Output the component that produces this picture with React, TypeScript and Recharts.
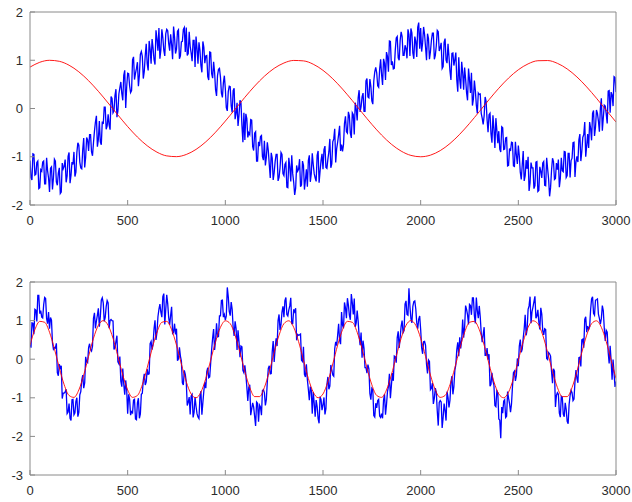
import React from "react";
import { LineChart, Line, XAxis, YAxis } from "recharts";

// top panel: slow reference wave (red, step 50) and noisy inverted signal (blue, step 10 + midpoints)
const topRed = [
  0.858, 0.958, 0.999, 0.978, 0.897, 0.76, 0.576, 0.356, 0.114, -0.134,
  -0.375, -0.592, -0.772, -0.905, -0.982, -0.998, -0.953, -0.848, -0.691, -0.491,
  -0.261, -0.015, 0.232, 0.465, 0.669, 0.832, 0.943, 0.996, 0.987, 0.918,
  0.791, 0.616, 0.402, 0.164, -0.085, -0.328, -0.551, -0.74, -0.883, -0.972,
  -1.0, -0.967, -0.873, -0.726, -0.534, -0.309, -0.065, 0.183, 0.42, 0.631,
  0.803, 0.925, 0.99, 0.994, 0.936, 0.82, 0.654, 0.447, 0.213, -0.035,
  -0.28,
];

// samples at x = 0, 10, 20 ... 3000
const topBlue = [
  -1.08, -1.48, -0.95, -1.36, -1.09, -1.64, -1.3, -1.09, -1.56, -1.29,
  -1.73, -1.21, -1.44, -1.09, -1.59, -1.23, -1.73, -1.25, -1.06, -1.4,
  -0.91, -1.38, -1.16, -1.41, -0.91, -0.76, -1.23, -0.85, -1.22, -0.6,
  -0.88, -0.54, -0.98, -0.47, -0.15, -0.64, -0.69, -0.27, 0.03, -0.43,
  -0.12, -0.44, 0.21, -0.05, 0.4, -0.05, 0.43, 0.31, 0.69, 0.01,
  0.73, 0.47, 0.37, 1.07, 0.73, 0.96, 0.69, 1.18, 0.62, 1.1,
  0.93, 1.4, 0.93, 1.25, 0.91, 1.44, 1.67, 1.22, 1.47, 1.09,
  1.64, 1.35, 1.54, 1.02, 1.48, 1.23, 1.63, 1.09, 1.39, 1.68,
  1.68, 1.14, 1.29, 0.98, 1.41, 1.49, 0.93, 1.21, 0.75, 1.27,
  1.09, 0.66, 1.17, 0.72, 0.97, 0.39, 0.68, 0.83, 0.32, 0.53,
  0.41, -0.05, 0.46, 0.06, 0.37, -0.22, 0.12, -0.14, 0.12, -0.7,
  -0.65, -0.21, -0.5, -0.23, -0.79, -0.51, -1.09, -0.69, -0.58, -1.0,
  -0.67, -1.01, -0.87, -1.44, -1.03, -1.33, -0.95, -1.5, -1.23, -0.95,
  -1.39, -1.12, -1.64, -1.21, -0.97, -1.53, -1.65, -1.3, -1.05, -1.58,
  -1.18, -1.48, -1.62, -0.97, -1.35, -1.16, -1.44, -0.97, -1.54, -1.08,
  -1.26, -0.78, -1.24, -0.9, -1.23, -0.69, -0.42, -0.83, -0.54, -0.88,
  -0.89, -0.31, -0.48, -0.07, -0.51, -0.09, -0.54, -0.01, 0.22, -0.07,
  0.24, -0.06, 0.57, 0.24, 0.61, 0.16, 0.57, 0.85, 0.47, 0.81,
  0.7, 1.03, 0.59, 1.08, 1.4, 0.9, 0.82, 1.21, 1.49, 1.0,
  1.59, 1.1, 1.31, 1.04, 1.53, 1.66, 1.15, 1.49, 1.07, 1.78,
  1.67, 1.36, 1.54, 1.0, 1.45, 1.18, 1.56, 1.02, 1.3, 1.59,
  1.26, 0.83, 1.37, 1.0, 1.34, 0.78, 1.14, 0.89, 1.16, 0.35,
  0.6, 0.97, 0.39, 0.62, 0.17, 0.6, 0.74, 0.2, 0.37, -0.1,
  0.29, -0.1, -0.33, 0.24, -0.23, -0.13, -0.52, -0.14, -0.82, -0.45,
  -0.47, -0.9, -0.4, -0.84, -0.6, -1.18, -0.88, -0.71, -1.2, -0.97,
  -0.77, -1.32, -1.17, -1.5, -1.07, -1.0, -1.54, -1.23, -1.66, -1.11,
  -1.72, -1.21, -1.44, -1.1, -1.6, -1.25, -1.82, -1.28, -1.1, -1.45,
  -1.27, -1.63, -1.02, -1.31, -0.9, -1.39, -0.93, -1.08, -0.71, -1.42,
  -0.99, -0.65, -1.09, -0.6, -0.28, -0.77, -0.82, -0.41, -0.1, -0.57,
  -0.03, -0.26, 0.0, -0.46, 0.07, -0.12, 0.36, -0.09, 0.28, 0.66,
  0.34,
];

// samples at x = 5, 15, 25 ... 2995
const topBlueMid = [
  -1.43, -0.94, -1.38, -1.12, -1.66, -1.27, -1.11, -1.56, -1.02, -1.44,
  -1.24, -1.68, -1.05, -1.52, -1.34, -1.76, -1.13, -1.2, -1.53, -0.99,
  -1.55, -1.11, -0.9, -1.32, -0.71, -1.11, -1.25, -0.61, -1.01, -0.65,
  -0.54, -0.9, -0.71, -0.28, -0.79, -0.26, -0.75, -0.32, 0.03, -0.36,
  -0.34, 0.25, -0.09, 0.27, -0.18, 0.3, 0.55, 0.17, 0.79, 0.45,
  0.72, 0.33, 1.01, 0.6, 0.83, 0.46, 1.12, 1.08, 0.77, 1.34,
  0.79, 1.23, 1.44, 1.01, 1.62, 1.2, 1.03, 1.64, 1.21, 1.55,
  1.61, 1.2, 1.33, 1.7, 1.14, 1.6, 1.03, 1.38, 1.64, 1.17,
  1.1, 1.59, 1.15, 1.41, 0.86, 1.24, 1.37, 0.89, 1.39, 0.94,
  1.1, 0.59, 1.16, 0.63, 0.75, 0.26, 0.81, 0.65, 0.23, 0.68,
  0.02, 0.35, 0.45, -0.08, 0.42, -0.1, -0.36, 0.17, -0.35, -0.09,
  -0.11, -0.6, -0.54, -0.24, -0.87, -0.48, -1.09, -0.78, -0.56, -1.07,
  -1.18, -0.7, -1.16, -0.92, -1.48, -1.1, -0.95, -1.43, -0.91, -1.35,
  -1.16, -1.63, -1.02, -1.51, -1.35, -1.79, -1.18, -1.26, -1.62, -1.09,
  -1.68, -1.26, -1.08, -1.52, -0.93, -1.35, -1.51, -0.88, -1.3, -0.94,
  -0.85, -1.22, -1.05, -0.63, -1.15, -0.63, -1.12, -0.7, -0.36, -0.75,
  -0.75, -0.16, -0.51, -0.15, -0.61, -0.13, 0.12, -0.25, 0.38, 0.04,
  0.32, -0.06, 0.62, 0.22, 0.46, 0.09, 0.76, 0.74, 0.44, 1.02,
  0.49, 0.94, 1.17, 0.76, 1.39, 0.98, 0.83, 1.46, 1.05, 1.41,
  1.49, 1.1, 1.24, 1.64, 1.09, 1.57, 1.03, 1.39, 1.68, 1.24,
  1.18, 1.69, 1.27, 1.55, 1.02, 1.41, 1.56, 1.1, 1.62, 1.19,
  1.36, 0.87, 1.45, 0.94, 1.07, 0.59, 1.15, 1.01, 0.59, 1.06,
  0.41, 0.75, 0.85, 0.33, 0.83, 0.32, 0.06, 0.58, 0.07, 0.32,
  0.3, -0.2, -0.15, 0.15, -0.49, -0.1, -0.71, -0.42, -0.2, -0.72,
  -0.84, -0.38, -0.85, -0.61, -1.19, -0.83, -0.7, -1.19, -0.69, -1.15,
  -0.98, -1.47, -0.88, -1.39, -1.25, -1.71, -1.12, -1.23, -1.6, -1.1,
  -1.7, -1.3, -1.13, -1.59, -1.02, -1.46, -1.64, -1.03, -1.47, -1.13,
  -1.06, -1.45, -1.29, -0.89, -1.43, -0.93, -1.43, -1.03, -0.7, -1.11,
  -1.11, -0.53, -0.89, -0.54, -1.0, -0.53, -0.28, -0.66, -0.04, -0.39,
  -0.1, -0.48, 0.21, -0.19, 0.05, -0.31, 0.37, 0.34, 0.05, 0.64,
];

// bottom panel: fast reference wave (red, step 25) and noisy in-phase signal (blue)
const bottomRed = [
  0.365, 0.766, 0.98, 0.956, 0.698, 0.271, -0.223, -0.662, -0.94, -0.989,
  -0.797, -0.411, 0.075, 0.543, 0.878, 1.0, 0.878, 0.543, 0.075, -0.411,
  -0.797, -0.989, -0.94, -0.662, -0.223, 0.271, 0.698, 0.956, 0.98, 0.766,
  0.365, -0.124, -0.584, -0.901, -0.999, -0.853, -0.5, -0.025, 0.456, 0.826,
  0.995, 0.921, 0.623, 0.174, -0.319, -0.733, -0.969, -0.969, -0.733, -0.319,
  0.174, 0.623, 0.921, 0.995, 0.826, 0.456, -0.025, -0.5, -0.853, -0.999,
  -0.901, -0.584, -0.124, 0.365, 0.766, 0.98, 0.956, 0.698, 0.271, -0.223,
  -0.662, -0.94, -0.989, -0.797, -0.411, 0.075, 0.543, 0.878, 1.0, 0.878,
  0.543, 0.075, -0.411, -0.797, -0.989, -0.94, -0.662, -0.223, 0.271, 0.698,
  0.956, 0.98, 0.766, 0.365, -0.124, -0.584, -0.901, -0.999, -0.853, -0.5,
  -0.025, 0.456, 0.826, 0.995, 0.921, 0.623, 0.174, -0.319, -0.733, -0.969,
  -0.969, -0.733, -0.319, 0.174, 0.623, 0.921, 0.995, 0.826, 0.456, -0.025,
  -0.5,
];

const bottomBlue = [
  0.42, 0.94, 0.65, 1.27, 1.65, 1.18, 1.09, 1.41, 1.57, 0.92,
  0.79, 1.01, 0.26, 0.29, -0.35, -0.13, -0.17, -0.88, -0.85, -1.41,
  -1.15, -1.59, -1.04, -1.39, -1.0, -1.38, -0.84, -0.41, -0.61, -0.07,
  0.3, 0.25, 0.34, 1.2, 0.99, 1.32, 1.1, 1.59, 0.98, 1.36,
  1.46, 1.0, 1.0, 0.25, 0.46, -0.07, 0.07, -0.71, -0.65, -0.55,
  -1.41, -1.04, -1.36, -1.06, -1.55, -1.13, -1.53, -0.91, -0.55, -0.67,
  -0.26, -0.38, 0.46, 0.39, 1.01, 0.7, 1.29, 1.22, 1.62, 0.9,
  1.67, 1.08, 1.14, 0.67, 0.92, 0.79, 0.01, 0.08, -0.61, -0.29,
  -0.59, -1.11, -1.43, -0.91, -1.38, -1.22, -1.5, -0.97, -1.44, -0.82,
  -0.75, -0.22, -0.46, 0.25, 0.78, 0.48, 0.58, 1.12, 1.52, 1.09,
  1.01, 1.86, 1.24, 1.48, 0.82, 0.98, 0.24, 0.45, 0.34, -0.29,
  -0.16, -0.71, -0.73, -1.45, -1.13, -1.48, -1.11, -1.62, -1.24, -0.81,
  -0.87, -1.04, -0.24, -0.38, 0.19, -0.07, 0.54, 1.0, 0.76, 1.22,
  1.09, 1.6, 1.12, 1.38, 0.92, 1.29, 1.32, 0.64, 0.63, -0.03,
  0.32, -0.46, -0.53, -1.06, -0.8, -0.85, -1.49, -1.23, -1.66, -1.05,
  -1.18, -1.43, -0.66, -0.78, -0.15, -0.41, 0.27, 0.35, 0.92, 0.39,
  0.88, 1.47, 1.06, 1.4, 1.02, 1.46, 1.57, 0.94, 0.98, 0.36,
  0.04, 0.28, -0.22, -0.14, -0.89, -0.75, -1.46, -1.14, -1.07, -1.47,
  -1.41, -1.06, -1.44, -0.84, -0.38, -0.69, -0.56, 0.06, 0.56, 0.29,
  0.85, 0.69, 1.43, 1.16, 1.84, 1.05, 1.37, 1.51, 0.94, 1.04,
  0.77, 0.14, 0.46, -0.13, -0.02, -0.79, -0.62, -1.01, -0.85, -1.72,
  -1.07, -1.78, -1.15, -1.59, -0.99, -1.06, -0.44, -0.71, -0.14, 0.44,
  0.57, 0.5, 0.56, 1.39, 1.15, 1.42, 1.15, 1.59, 0.93, 1.26,
  1.38, 0.68, 0.64, 0.1, 0.29, 0.13, -0.65, -0.57, -1.2, -0.82,
  -1.55, -2.05, -1.4, -1.05, -1.48, -1.01, -1.37, -0.71, -0.31, -0.42,
  -0.18, 0.51, 0.26, 0.79, 0.62, 1.29, 1.62, 1.23, 1.49, 1.06,
  1.28, 0.77, 1.17, 0.63, 0.77, -0.01, 0.14, -0.32, -0.25, -1.24,
  -0.87, -1.4, -0.96, -1.42, -1.13, -1.61, -1.17, -0.81, -1.07, -0.58,
  -0.5, 0.04, -0.19, 0.52, 1.03, 0.7, 0.77, 1.28, 1.62, 1.14,
  1.54, 1.17, 0.91, 1.39, 0.8, 0.75, 0.18, 0.35, -0.53, -0.36,
  -0.58,
];

const bottomBlueMid = [
  0.3, 0.93, 1.29, 0.98, 1.65, 1.26, 1.07, 1.6, 1.05, 1.22,
  1.08, 0.43, 0.3, 0.41, -0.43, -0.23, -1.02, -0.88, -0.78, -1.37,
  -1.53, -1.05, -1.44, -1.09, -1.49, -0.92, -0.54, -0.75, 0.06, -0.09,
  0.4, 0.21, 1.06, 0.8, 1.14, 0.84, 1.53, 1.46, 1.08, 1.52,
  0.8, 1.03, 0.99, 0.3, 0.61, -0.12, -0.57, -0.24, -0.92, -0.8,
  -0.91, -1.45, -1.39, -1.04, -1.57, -1.01, -1.42, -0.88, -0.38, -0.59,
  -0.39, 0.4, 0.25, 0.79, 0.5, 1.1, 1.43, 1.09, 1.7, 1.29,
  1.44, 0.89, 1.36, 0.7, 0.64, -0.04, 0.31, -0.05, -0.67, -0.39,
  -1.2, -0.98, -0.95, -1.51, -0.98, -1.41, -1.54, -0.83, -1.12, -0.6,
  -0.32, -0.48, -0.1, 0.55, 0.24, 0.93, 0.59, 1.12, 1.53, 1.16,
  1.12, 1.62, 1.13, 1.29, 0.6, 0.8, 0.75, 0.05, 0.32, -0.35,
  -0.4, -1.08, -0.66, -1.29, -1.24, -1.73, -1.14, -1.19, -1.45, -0.79,
  -1.2, -0.58, -0.17, -0.37, 0.47, 0.28, 0.34, 1.16, 0.9, 1.37,
  1.52, 1.16, 1.28, 1.59, 0.92, 1.23, 0.49, 0.62, 0.65, -0.06,
  -0.39, -0.13, -0.78, -0.71, -1.41, -1.14, -1.06, -1.54, -0.97, -1.32,
  -0.99, -1.28, -0.46, -0.7, -0.27, -0.44, 0.45, 0.62, 0.49, 1.22,
  0.8, 1.33, 1.58, 1.14, 1.69, 1.16, 0.84, 1.26, 0.6, 0.69,
  0.48, -0.22, -0.36, -0.25, -1.05, -0.79, -1.5, -1.26, -1.04, -1.51,
  -1.53, -0.91, -1.18, -0.71, -1.01, -0.36, 0.08, -0.09, 0.72, 0.56,
  1.0, 0.74, 1.51, 1.14, 1.37, 0.94, 1.49, 1.3, 0.79, 1.12,
  0.3, 0.45, 0.36, -0.37, -0.06, -0.75, -1.16, -0.75, -1.34, -1.12,
  -1.11, -1.51, -1.33, -0.84, -1.25, -0.59, -0.91, -0.29, 0.25, 0.08,
  0.28, 1.03, 0.83, 1.29, 0.9, 1.39, 1.59, 1.13, 1.6, 1.06,
  1.1, 0.44, 0.83, 0.1, -0.01, -0.7, -0.35, -0.67, -1.23, -0.87,
  -1.58, -1.24, -1.09, -1.51, -0.84, -1.15, -1.16, -0.35, -0.56, 0.02,
  0.34, 0.18, 0.55, 1.15, 0.77, 1.38, 0.93, 1.35, 1.63, 1.12,
  0.96, 1.33, 0.73, 0.79, 0.02, 0.17, 0.08, -0.62, -0.31, -0.94,
  -0.91, -1.5, -0.98, -1.49, -1.3, -1.67, -0.94, -0.87, -1.03, -0.28,
  -0.61, 0.05, 0.5, 0.3, 1.1, 0.86, 0.84, 1.56, 1.19, 1.53,
  1.56, 1.06, 1.05, 1.25, 0.47, 0.7, -0.11, -0.03, -0.01, -0.72,
];

const xTicks = [0, 500, 1000, 1500, 2000, 2500, 3000];
const topYTicks = [-2, -1, 0, 1, 2];
const bottomYTicks = [-3, -2, -1, 0, 1, 2];

type Pt = { x: number; y: number };

const toPoints = (values: number[], step: number): Pt[] =>
  values.map((y, i) => ({ x: i * step, y }));

// interleave the 10-step samples with the in-between samples
const interleave = (main: number[], mid: number[]): Pt[] => {
  const out: Pt[] = [];
  main.forEach((y, i) => {
    out.push({ x: i * 10, y });
    if (i < mid.length) out.push({ x: i * 10 + 5, y: mid[i] });
  });
  return out;
};

const AXIS = "#8a8a8a";
const LABEL = "#2b2b2b";
const tickFont = { fill: LABEL, fontSize: 13, fontFamily: "Liberation Sans, Arial, sans-serif" };

interface PanelProps {
  red: Pt[];
  blue: Pt[];
  yDomain: [number, number];
  yTicks: number[];
  height: number;
  margin: { top: number; right: number; bottom: number; left: number };
  xAxisHeight: number;
}

function Panel({ red, blue, yDomain, yTicks, height, margin, xAxisHeight }: PanelProps) {
  return (
    <LineChart width={632} height={height} margin={margin}>
      <XAxis
        dataKey="x"
        type="number"
        domain={[0, 3000]}
        ticks={xTicks}
        allowDataOverflow
        height={xAxisHeight}
        tickSize={-5}
        tickMargin={16}
        tick={tickFont}
        stroke={AXIS}
        axisLine={{ stroke: AXIS }}
        tickLine={{ stroke: AXIS }}
      />
      <XAxis
        xAxisId="top"
        orientation="top"
        dataKey="x"
        type="number"
        domain={[0, 3000]}
        ticks={xTicks}
        height={1}
        tickSize={-5}
        tick={false}
        axisLine={{ stroke: AXIS }}
        tickLine={{ stroke: AXIS }}
      />
      <YAxis
        type="number"
        domain={yDomain}
        ticks={yTicks}
        allowDataOverflow
        width={30}
        tickSize={-5}
        tickMargin={12}
        tick={tickFont}
        axisLine={{ stroke: AXIS }}
        tickLine={{ stroke: AXIS }}
      />
      <YAxis
        yAxisId="right"
        orientation="right"
        type="number"
        domain={yDomain}
        ticks={yTicks}
        width={1}
        tickSize={-5}
        tick={false}
        axisLine={{ stroke: AXIS }}
        tickLine={{ stroke: AXIS }}
      />
      <Line
        data={blue}
        dataKey="y"
        type="linear"
        stroke="#0000ff"
        strokeWidth={1.3}
        dot={false}
        isAnimationActive={false}
      />
      <Line
        data={red}
        dataKey="y"
        type="monotone"
        stroke="#ff0000"
        strokeWidth={0.9}
        dot={false}
        isAnimationActive={false}
      />
    </LineChart>
  );
}

export default function App() {
  return (
    <div style={{ position: "absolute", left: 0, top: 0, width: 632, height: 502, background: "#fff" }}>
      <div style={{ position: "absolute", left: 0, top: 0 }}>
        <Panel
          red={toPoints(topRed, 50)}
          blue={interleave(topBlue, topBlueMid)}
          yDomain={[-2, 2]}
          yTicks={topYTicks}
          height={250}
          margin={{ top: 11, right: 15, bottom: 15, left: 0 }}
          xAxisHeight={30}
        />
      </div>
      <div style={{ position: "absolute", left: 0, top: 251 }}>
        <Panel
          red={toPoints(bottomRed, 25)}
          blue={interleave(bottomBlue, bottomBlueMid)}
          yDomain={[-3, 2]}
          yTicks={bottomYTicks}
          height={251}
          margin={{ top: 30, right: 15, bottom: 0, left: 0 }}
          xAxisHeight={27}
        />
      </div>
    </div>
  );
}
